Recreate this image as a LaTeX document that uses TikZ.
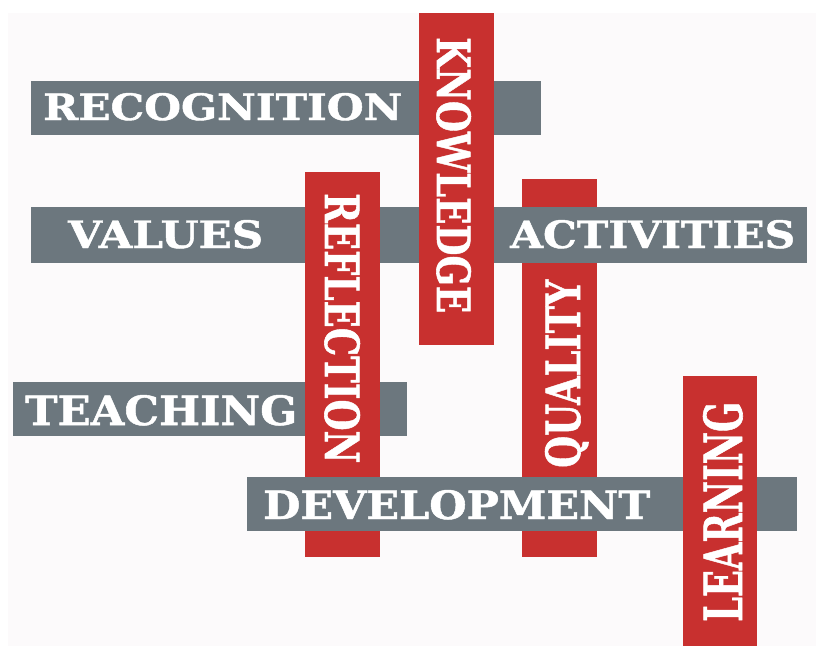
\documentclass[tikz,border=0pt]{standalone}
\usepackage{fontspec}
\usepackage{graphicx}
\setmainfont{DejaVu Serif}
\newfontfamily\slabfont[FakeBold=1.2]{DejaVu Serif}
\usetikzlibrary{positioning}

\definecolor{barred}{HTML}{C8302F}
\definecolor{bargray}{HTML}{6C777E}
\definecolor{paper}{HTML}{FCFAFB}

% word stretched to a given length and cap height
\newcommand{\barword}[3]{\resizebox{#1pt}{#2pt}{\slabfont\bfseries #3}}

\begin{document}
\begin{tikzpicture}[x=1pt, y=-1pt,
  redbar/.style={fill=barred},
  graybar/.style={fill=bargray},
  word/.style={text=white, inner sep=0pt, anchor=base west}]
\useasboundingbox (0,0) rectangle (822,646);
\fill[white] (0,0) rectangle (822,646);
\fill[paper] (8,13) rectangle (816,646);

\fill[redbar] (522,179) rectangle (597,557);
\fill[graybar] (31,81) rectangle (541,135);
\fill[graybar] (31,207) rectangle (807,263);
\fill[graybar] (13,382) rectangle (407,436);
\node[word] (recognition) at (43,120) {\barword{359}{27}{RECOGNITION}};
\node[word] (values) at (68,248) {\barword{195}{28}{VALUES}};
\node[word] (activities) at (510,248) {\barword{285}{28}{ACTIVITIES}};
\node[word] (teaching) at (25,425) {\barword{272}{30}{TEACHING}};
\node[word, rotate=90] (quality) at (580,468) {\barword{188}{35}{QUALITY}};

\fill[redbar] (419,13) rectangle (494,345);
\fill[redbar] (305,172) rectangle (380,557);
\node[word, rotate=-90] (knowledge) at (437,37) {\barword{276}{34}{KNOWLEDGE}};
\node[word, rotate=-90] (reflection) at (325,193) {\barword{270}{35}{REFLECTION}};

\fill[graybar] (247,477) rectangle (797,531);
\node[word] (development) at (263,519) {\barword{387}{29}{DEVELOPMENT}};

\fill[redbar] (683,376) rectangle (757,646);
\node[word, rotate=90] (learning) at (742,622) {\barword{220}{39}{LEARNING}};
\end{tikzpicture}
\end{document}
